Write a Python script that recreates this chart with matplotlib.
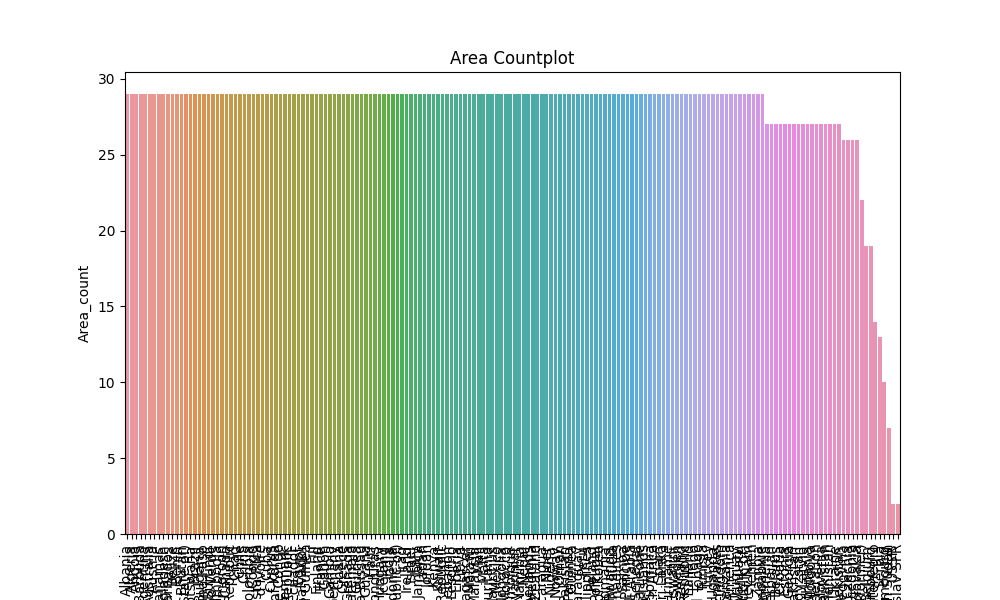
import matplotlib
matplotlib.use("Agg")
import matplotlib.pyplot as plt
import seaborn as sns

areas_29 = [
    "Albania", "Algeria", "Angola", "Antigua and Barbuda", "Argentina", "Australia",
    "Austria", "Bahamas", "Bangladesh", "Barbados", "Belize", "Benin", "Bhutan",
    "Bolivia (Plurinational State of)", "Botswana", "Brazil", "Bulgaria", "Burkina Faso",
    "Burundi", "Cabo Verde", "Cambodia", "Cameroon", "Canada", "Central African Republic",
    "Chad", "Chile", "China", "Colombia", "Congo", "Costa Rica", "Côte d'Ivoire", "Cuba",
    "Cyprus", "Democratic People's Republic of Korea", "Democratic Republic of the Congo",
    "Denmark", "Dominican Republic", "Ecuador", "Egypt", "El Salvador", "Equatorial Guinea",
    "Fiji", "Finland", "France", "Gabon", "Gambia", "Germany", "Ghana", "Greece", "Grenada",
    "Guatemala", "Guinea", "Guinea-Bissau", "Guyana", "Haiti", "Honduras", "Hungary",
    "Iceland", "India", "Indonesia", "Iran (Islamic Republic of)", "Iraq", "Ireland",
    "Israel", "Italy", "Jamaica", "Japan", "Jordan", "Kenya", "Kuwait",
    "Lao People's Democratic Republic", "Lebanon", "Lesotho", "Liberia", "Libya",
    "Madagascar", "Malawi", "Malaysia", "Mali", "Malta", "Mauritania", "Mauritius",
    "Mexico", "Mongolia", "Morocco", "Mozambique", "Myanmar", "Namibia", "Nepal",
    "Netherlands", "New Caledonia", "New Zealand", "Nicaragua", "Niger", "Nigeria",
    "Norway", "Oman", "Pakistan", "Panama", "Papua New Guinea", "Paraguay", "Peru",
    "Philippines", "Poland", "Portugal", "Republic of Korea", "Romania", "Rwanda",
    "Saint Lucia", "Saint Vincent and the Grenadines", "Samoa", "Sao Tome and Principe",
    "Saudi Arabia", "Senegal", "Sierra Leone", "Solomon Islands", "Somalia",
    "South Africa", "Spain", "Sri Lanka", "Suriname", "Eswatini", "Sweden", "Switzerland",
    "Syrian Arab Republic", "Thailand", "Togo", "Trinidad and Tobago", "Tunisia", "Turkey",
    "Uganda", "United Arab Emirates", "United Kingdom", "United Republic of Tanzania",
    "United States of America", "Uruguay", "Vanuatu", "Venezuela (Bolivarian Republic of)",
    "Viet Nam", "Yemen", "Zambia", "Zimbabwe",
]
areas_27 = [
    "Armenia", "Azerbaijan", "Belarus", "Croatia", "Estonia", "Georgia", "Kazakhstan",
    "Kyrgyzstan", "Latvia", "Lithuania", "Republic of Moldova", "Russian Federation",
    "Slovenia", "Tajikistan", "Turkmenistan", "Ukraine", "Uzbekistan",
]
areas_26 = ["Bosnia and Herzegovina", "Czechia", "North Macedonia", "Slovakia"]
areas_22 = ["Sudan (former)"]
areas_19 = ["Belgium", "Luxembourg"]
areas_14 = ["Serbia and Montenegro"]
areas_13 = ["Serbia"]
areas_10 = ["Belgium-Luxembourg"]
areas_7 = ["South Sudan"]
areas_2 = ["USSR", "Yugoslav SFR"]

groups = [
    (29, areas_29), (27, areas_27), (26, areas_26), (22, areas_22), (19, areas_19),
    (14, areas_14), (13, areas_13), (10, areas_10), (7, areas_7), (2, areas_2),
]

categories = []
counts = []
for value, names in groups:
    for name in names:
        categories.append(name)
        counts.append(value)

n = len(categories)
palette = [sns.desaturate(c, 0.75) for c in sns.husl_palette(n, l=.7)]

fig, ax = plt.subplots(figsize=(10, 6), dpi=100)
x = list(range(n))
ax.bar(x, counts, width=0.8, color=palette, linewidth=0)
ax.set_xlim(-0.5, n - 0.5)
ax.set_xticks(x)
ax.set_xticklabels(categories, rotation=90)
ax.set_ylim(0, max(counts) * 1.05)
ax.set_yticks([0, 5, 10, 15, 20, 25, 30])
ax.set_xlabel("Area")
ax.set_ylabel("Area_count")
ax.set_title("Area Countplot")

fig.savefig("out.png", dpi=100)
